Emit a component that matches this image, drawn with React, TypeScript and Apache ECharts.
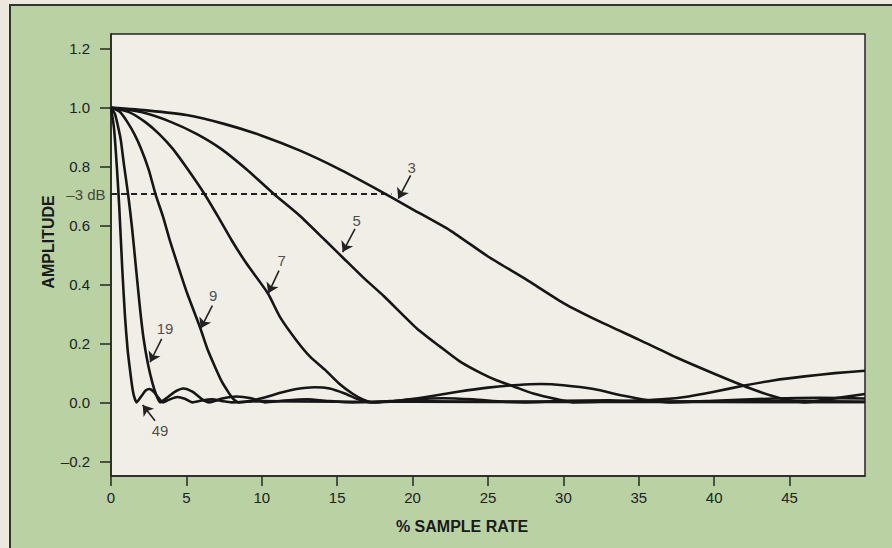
import React, { useEffect, useRef } from "react";
import * as echarts from "echarts";

// ---- data (x: % sample rate, y: amplitude) ----
const curveNames = ["3", "5", "7", "9", "19", "49"];

const curve3: [number, number][] = [
  [0, 1.0], [2.5, 0.99], [5, 0.975], [7.5, 0.945], [10, 0.905], [12.5, 0.855],
  [15, 0.795], [17.5, 0.727], [20, 0.655], [22.5, 0.583], [25, 0.495], [27.5, 0.418],
  [30, 0.337], [32.5, 0.272], [35, 0.213], [37.5, 0.152], [40, 0.097], [42.5, 0.045],
  [44.5, 0.012], [46, 0.0], [47.5, 0.01], [50, 0.028],
];

const curve5: [number, number][] = [
  [0, 1.0], [2, 0.985], [4, 0.951], [5.7, 0.91], [7.3, 0.86], [9, 0.79], [10.8, 0.707],
  [12.5, 0.634], [14.2, 0.55], [15.4, 0.49], [16.7, 0.425], [18.1, 0.36], [20.3, 0.25],
  [21.8, 0.19], [23.1, 0.14], [24.5, 0.1], [25.6, 0.074], [26.7, 0.054], [28, 0.03],
  [29.6, 0.01], [30.6, 0.0], [32.5, 0.002], [34.5, 0.005], [36.5, 0.01], [38.3, 0.02],
  [40, 0.036], [42, 0.057], [44, 0.075], [46, 0.088], [48, 0.099], [50, 0.107],
];

const curve7: [number, number][] = [
  [0, 1.0], [1.2, 0.985], [2.3, 0.95], [3.2, 0.91], [4.1, 0.86], [5.1, 0.79], [6.2, 0.707],
  [7.1, 0.63], [8.0, 0.55], [9.0, 0.47], [10.4, 0.37], [11.2, 0.29], [12.3, 0.21],
  [13.2, 0.155], [14.2, 0.11], [15.1, 0.065], [16.0, 0.03], [16.7, 0.01], [17.4, 0.0],
  [19, 0.005], [21, 0.019], [23, 0.036], [25, 0.05], [27, 0.059], [28.5, 0.062],
  [30, 0.058], [32, 0.045], [34, 0.022], [35.5, 0.008], [37, 0.0], [40, 0.005],
  [44, 0.013], [47, 0.015], [50, 0.013],
];

const curve9: [number, number][] = [
  [0, 1.0], [0.6, 0.985], [1.1, 0.95], [1.55, 0.91], [2.0, 0.86], [2.5, 0.79], [2.95, 0.707],
  [3.45, 0.63], [3.9, 0.55], [4.4, 0.47], [5.05, 0.37], [5.9, 0.255], [6.4, 0.18],
  [6.9, 0.12], [7.35, 0.07], [7.8, 0.033], [8.1, 0.012], [8.45, 0.0], [9.3, 0.005],
  [10.3, 0.018], [11.3, 0.033], [12.3, 0.045], [13.5, 0.051], [14.5, 0.047], [15.5, 0.03],
  [16.3, 0.012], [17.2, 0.0], [18.5, 0.004], [20, 0.01], [22, 0.014], [24, 0.01],
  [26, 0.002], [27.5, 0.0], [30, 0.005], [33, 0.007], [36, 0.002], [40, 0.003],
  [45, 0.005], [50, 0.002],
];

const curve19: [number, number][] = [
  [0, 1.0], [0.25, 0.98], [0.45, 0.94], [0.65, 0.89], [0.85, 0.81], [1.15, 0.7],
  [1.4, 0.59], [1.65, 0.46], [1.9, 0.33], [2.15, 0.22], [2.45, 0.13], [2.75, 0.065],
  [3.0, 0.025], [3.25, 0.0], [3.7, 0.015], [4.2, 0.035], [4.8, 0.047], [5.4, 0.036],
  [6.0, 0.012], [6.5, 0.0], [7.3, 0.012], [8.3, 0.02], [9.3, 0.014], [10.2, 0.0],
  [11.5, 0.006], [13, 0.01], [14.5, 0.004], [16, 0.0], [20, 0.004], [25, 0.002],
  [30, 0.003], [40, 0.002], [50, 0.001],
];

const curve49: [number, number][] = [
  [0, 1.0], [0.2, 0.93], [0.4, 0.79], [0.55, 0.66], [0.75, 0.45], [0.93, 0.29],
  [1.1, 0.18], [1.26, 0.11], [1.4, 0.055], [1.52, 0.022], [1.7, 0.0], [2.0, 0.02],
  [2.3, 0.04], [2.55, 0.045], [2.85, 0.035], [3.15, 0.015], [3.45, 0.0], [3.9, 0.01],
  [4.4, 0.018], [4.9, 0.012], [5.4, 0.0], [6, 0.006], [6.7, 0.01], [7.4, 0.004],
  [8, 0.0], [10, 0.004], [15, 0.002], [20, 0.002], [30, 0.001], [50, 0.001],
];

const curves = [curve3, curve5, curve7, curve9, curve19, curve49];

const dbLevel = 0.707;
const dbLineEnd = 18.6;
const dbLabel = "\u20133 dB";

const xTicks = [0, 5, 10, 15, 20, 25, 30, 35, 40, 45];
const yTicks = [-0.2, 0, 0.2, 0.4, 0.6, 0.8, 1.0, 1.2];

// curve annotations (data coordinates)
const noteText = ["3", "5", "7", "9", "19", "49"];
const noteAt: [number, number][] = [
  [19.94, 0.798], [16.29, 0.617], [11.32, 0.481], [6.78, 0.362], [3.58, 0.249], [3.25, -0.096],
];
const arrowFrom: [number, number][] = [
  [19.87, 0.77], [16.18, 0.589], [11.14, 0.447], [6.72, 0.328], [3.36, 0.215], [2.92, -0.0625],
];
const arrowTo: [number, number][] = [
  [19.05, 0.691], [15.36, 0.51], [10.43, 0.37], [5.95, 0.251], [2.59, 0.136], [2.1, -0.009],
];

const FONT = '"Liberation Sans", Arial, Helvetica, sans-serif';
const INK = "#161616";

export default function App() {
  const ref = useRef<HTMLDivElement>(null);

  useEffect(() => {
    if (!ref.current) return;
    const chart = echarts.init(ref.current, undefined, { renderer: "svg" });

    const fmt = (v: number) =>
      (v < -1e-9 ? "\u2013" : "") + Math.abs(v).toFixed(1);

    const option: any = {
      animation: false,
      backgroundColor: "transparent",
      textStyle: { fontFamily: FONT },
      grid: {
        left: 111,
        right: 27,
        top: 34,
        bottom: 72,
        show: true,
        backgroundColor: "#f1eee8",
        borderColor: "#262626",
        borderWidth: 1.5,
      },
      xAxis: {
        type: "value",
        min: 0,
        max: 50,
        axisLine: { show: true, onZero: false, lineStyle: { color: "#262626", width: 1.5 } },
        axisTick: {
          show: true,
          length: 10,
          customValues: xTicks,
          lineStyle: { color: "#262626", width: 1.5 },
        },
        axisLabel: {
          customValues: xTicks,
          margin: 14,
          fontSize: 15,
          color: "#222",
          fontFamily: FONT,
        },
        splitLine: { show: false },
      },
      yAxis: {
        type: "value",
        min: -0.25,
        max: 1.25,
        axisLine: { show: true, onZero: false, lineStyle: { color: "#262626", width: 1.5 } },
        axisTick: {
          show: true,
          length: 11,
          customValues: yTicks,
          lineStyle: { color: "#262626", width: 1.5 },
        },
        axisLabel: {
          customValues: yTicks,
          formatter: fmt,
          margin: 21,
          fontSize: 15,
          color: "#222",
          fontFamily: FONT,
        },
        splitLine: { show: false },
      },
      graphic: [
        {
          type: "text",
          x: 462,
          y: 526,
          style: {
            text: "% SAMPLE RATE",
            font: `bold 16px ${FONT}`,
            fill: "#1a1a1a",
            textAlign: "center",
            textVerticalAlign: "middle",
          },
        },
        {
          type: "text",
          x: 48,
          y: 242,
          rotation: Math.PI / 2,
          style: {
            text: "AMPLITUDE",
            font: `bold 16px ${FONT}`,
            fill: "#1a1a1a",
            textAlign: "center",
            textVerticalAlign: "middle",
          },
        },
      ],
      series: [
        ...curves.map((d, i) => ({
          type: "line",
          name: curveNames[i],
          data: d,
          symbol: "none",
          showSymbol: false,
          smooth: 0.2,
          silent: true,
          lineStyle: { color: INK, width: 2.6, join: "round" },
          z: 3,
        })),
        {
          type: "line",
          name: "-3 dB",
          data: [
            [0, dbLevel],
            [dbLineEnd, dbLevel],
          ],
          symbol: "none",
          silent: true,
          lineStyle: { color: "#222", width: 2, type: [6, 4] },
          z: 2,
        },
        {
          type: "lines",
          coordinateSystem: "cartesian2d",
          silent: true,
          symbol: ["none", "arrow"],
          symbolSize: 10,
          lineStyle: { color: "#222", width: 1.6, curveness: 0, opacity: 1 },
          data: noteText.map((_, i) => ({ coords: [arrowFrom[i], arrowTo[i]] })),
          z: 4,
        },
        {
          type: "scatter",
          silent: true,
          symbolSize: 1,
          itemStyle: { color: "rgba(0,0,0,0)" },
          label: {
            show: true,
            position: "inside",
            formatter: "{b}",
            fontSize: 15,
            color: "#222",
            fontFamily: FONT,
          },
          data: [
            ...noteText.map((t, i) => ({ name: t, value: noteAt[i] })),
            {
              name: dbLabel,
              value: [0, dbLevel],
              label: { position: "left", distance: 5 },
            },
          ],
          z: 5,
        },
      ],
    };

    chart.setOption(option);
    return () => chart.dispose();
  }, []);

  return (
    <div
      style={{
        position: "fixed",
        left: 0,
        top: 0,
        width: 892,
        height: 548,
        background: "#ece8de",
        overflow: "hidden",
      }}
    >
      <div
        style={{
          position: "absolute",
          left: 9,
          top: 4,
          right: 0,
          bottom: 0,
          background: "#b9d1a3",
          borderLeft: "2px solid #333",
          borderTop: "2px solid #333",
        }}
      />
      <div
        ref={ref}
        style={{ position: "absolute", left: 0, top: 0, width: 892, height: 548 }}
      />
    </div>
  );
}
